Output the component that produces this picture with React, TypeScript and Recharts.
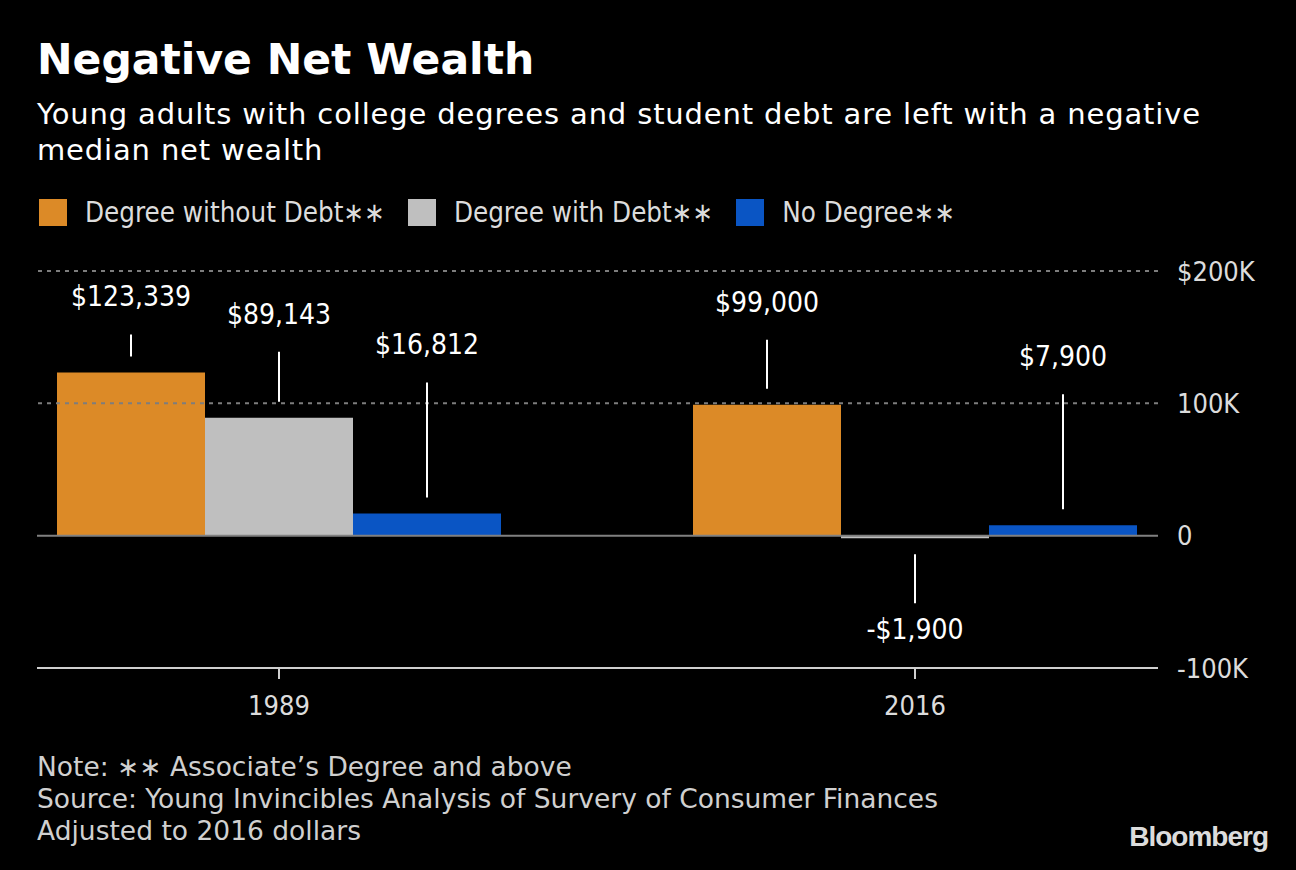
import { BarChart, Bar, XAxis, YAxis, ReferenceLine, Legend, LabelList } from 'recharts';

const years = ['1989', '2016'];
const withoutDebt = [123339, 99000];
const withDebt = [89143, -1900];
const noDegree = [16812, 7900];
const yTicks = [-100000, 0, 100000, 200000];
const seriesNames = ['Degree without Debt∗∗', 'Degree with Debt∗∗', 'No Degree∗∗'];

// leader line lengths (px) for the annotation of each bar, by year
const leaderLen: Record<string, number[]> = {
  withoutDebt: [22, 49],
  withDebt: [50, 49],
  noDegree: [115, 115],
};

const data = years.map((year, i) => ({
  year,
  withoutDebt: withoutDebt[i],
  withDebt: withDebt[i],
  noDegree: noDegree[i],
}));

const FONT = "'DejaVu Sans Condensed', 'DejaVu Sans', sans-serif";
const WIDE = "'DejaVu Sans', sans-serif";
const ORANGE = '#dc8a27';
const GRAY = '#bfbfbf';
const BLUE = '#0a55c4';

const fmtMoney = (v: number) =>
  v < 0 ? `-$${Math.abs(v).toLocaleString('en-US')}` : `$${v.toLocaleString('en-US')}`;

const fmtTick = (v: number) => {
  if (v === 0) return '0';
  if (v === 200000) return '$200K';
  return `${v / 1000}K`;
};

function makeLabel(key: string) {
  return (props: any) => {
    const { x, y, width, height, value, index } = props;
    const len = leaderLen[key][index];
    const cx = Number(x) + Number(width) / 2;
    const top = Math.min(Number(y), Number(y) + Number(height));
    const bottom = Math.max(Number(y), Number(y) + Number(height));
    if (value < 0) {
      const y1 = bottom + 16;
      const y2 = y1 + len;
      return (
        <g>
          <line x1={cx} x2={cx} y1={y1} y2={y2} stroke="#fff" strokeWidth={2} />
          <text x={cx} y={y2 + 36} textAnchor="middle" fill="#fff" fontSize={28}>
            {fmtMoney(value)}
          </text>
        </g>
      );
    }
    const y2 = top - 16;
    const y1 = y2 - len;
    return (
      <g>
        <line x1={cx} x2={cx} y1={y1} y2={y2} stroke="#fff" strokeWidth={2} />
        <text x={cx} y={y1 - 28} textAnchor="middle" fill="#fff" fontSize={28}>
          {fmtMoney(value)}
        </text>
      </g>
    );
  };
}

function LegendContent({ payload }: any) {
  const items = [...(payload || [])].sort(
    (a: any, b: any) => seriesNames.indexOf(a.value) - seriesNames.indexOf(b.value)
  );
  return (
    <div style={{ display: 'flex', alignItems: 'center', fontFamily: FONT }}>
      {items.map((p: any) => (
        <div key={p.value} style={{ display: 'flex', alignItems: 'center', marginRight: 23 }}>
          <div style={{ width: 28, height: 27, background: p.color, marginRight: 18 }} />
          <span style={{ color: '#dcdcdc', fontSize: 27.5 }}>{p.value}</span>
        </div>
      ))}
    </div>
  );
}

export default function App() {
  return (
    <div
      style={{
        position: 'absolute',
        left: 0,
        top: 0,
        width: 1296,
        height: 870,
        background: '#000',
        fontFamily: FONT,
        overflow: 'hidden',
      }}
    >
      <div
        style={{
          position: 'absolute',
          left: 37,
          top: 34,
          color: '#fff',
          fontFamily: WIDE,
          fontWeight: 'bold',
          fontSize: 42.5,
          lineHeight: '52px',
        }}
      >
        Negative Net Wealth
      </div>
      <div
        style={{
          position: 'absolute',
          left: 37,
          top: 96,
          width: 1215,
          color: '#fff',
          fontFamily: WIDE,
          fontSize: 29,
          letterSpacing: 0.85,
          lineHeight: '36px',
        }}
      >
        Young adults with college degrees and student debt are left with a negative median net wealth
      </div>

      <div style={{ position: 'absolute', left: 0, top: 0 }}>
        <BarChart
          width={1296}
          height={870}
          data={data}
          margin={{ top: 271, right: 38, bottom: 142, left: 37 }}
          barCategoryGap={96}
          barGap={0}
        >
          <XAxis
            dataKey="year"
            padding={{ left: -76, right: -75 }}
            axisLine={{ stroke: '#cfcfcf', strokeWidth: 2 }}
            tickLine={{ stroke: '#cfcfcf', strokeWidth: 2 }}
            tickSize={11}
            tickMargin={17}
            height={60}
            tick={{ fill: '#dcdcdc', fontSize: 27 }}
          />
          <YAxis
            orientation="right"
            domain={[-100000, 200000]}
            ticks={yTicks}
            tickFormatter={fmtTick}
            axisLine={false}
            tickLine={false}
            tickMargin={13}
            width={100}
            tick={{ fill: '#dcdcdc', fontSize: 27, textAnchor: 'start' }}
          />
          <ReferenceLine y={200000} stroke="#7d7d7d" strokeWidth={2} strokeDasharray="4 5" />
          <ReferenceLine y={100000} stroke="#7d7d7d" strokeWidth={2} strokeDasharray="4 5" />
          <Legend
            layout="horizontal"
            verticalAlign="middle"
            align="center"
            content={<LegendContent />}
            wrapperStyle={{ top: 196, left: 39, width: 1000 }}
          />
          <Bar dataKey="withoutDebt" name={seriesNames[0]} fill={ORANGE} isAnimationActive={false}>
            <LabelList dataKey="withoutDebt" content={makeLabel('withoutDebt')} />
          </Bar>
          <Bar dataKey="withDebt" name={seriesNames[1]} fill={GRAY} isAnimationActive={false}>
            <LabelList dataKey="withDebt" content={makeLabel('withDebt')} />
          </Bar>
          <Bar dataKey="noDegree" name={seriesNames[2]} fill={BLUE} isAnimationActive={false}>
            <LabelList dataKey="noDegree" content={makeLabel('noDegree')} />
          </Bar>
          <ReferenceLine y={0} stroke="#808080" strokeWidth={2} />
        </BarChart>
      </div>

      <div
        style={{
          position: 'absolute',
          left: 37,
          top: 751,
          color: '#d0d0d0',
          fontFamily: WIDE,
          fontSize: 26.5,
          lineHeight: '32px',
        }}
      >
        <div>Note: ∗∗ Associate’s Degree and above</div>
        <div>Source: Young Invincibles Analysis of Survery of Consumer Finances</div>
        <div>Adjusted to 2016 dollars</div>
      </div>
      <div
        style={{
          position: 'absolute',
          right: 28,
          top: 821,
          color: '#dcdcdc',
          fontFamily: "'Liberation Sans', Arial, sans-serif",
          fontWeight: 'bold',
          fontSize: 28,
          letterSpacing: -1,
        }}
      >
        Bloomberg
      </div>
    </div>
  );
}
